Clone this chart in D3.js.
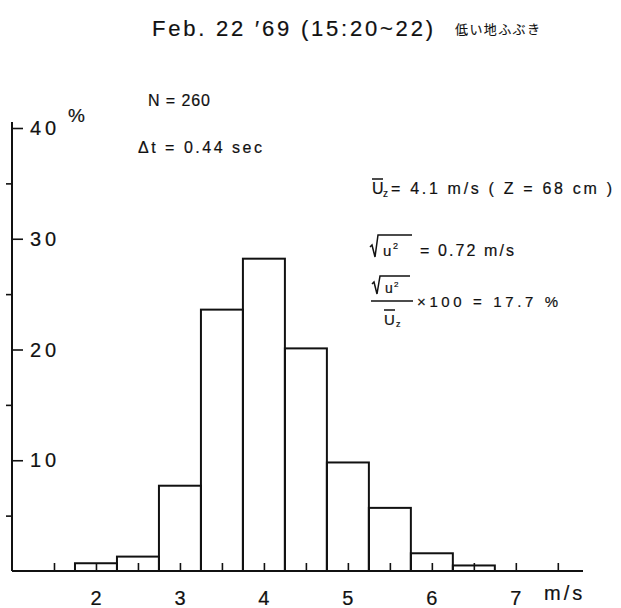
<!DOCTYPE html>
<html>
<head>
<meta charset="utf-8">
<script src="https://cdn.jsdelivr.net/npm/d3@7"></script>
<style>
  html, body { margin: 0; padding: 0; background: #fff; }
  svg text { font-family: "Liberation Sans", "DejaVu Sans", sans-serif; fill: #111; stroke: #111; stroke-width: 0.2; }
  .jp { font-family: "Noto Sans CJK JP", sans-serif; stroke-width: 0.1; }
</style>
</head>
<body>
<div id="chart"></div>
<script>
// histogram of wind speed, bins 0.5 m/s wide
const binCenters = [2.0, 2.5, 3.0, 3.5, 4.0, 4.5, 5.0, 5.5, 6.0, 6.5];
const percents   = [0.7, 1.3, 7.7, 23.6, 28.2, 20.1, 9.8, 5.7, 1.6, 0.5];
const binWidth = 0.5;

const xTickValues = [1.5, 2, 2.5, 3, 3.5, 4, 4.5, 5, 5.5, 6, 6.5, 7, 7.5];
const xLabels = [2, 3, 4, 5, 6, 7];
const yMajor = [10, 20, 30, 40];
const yMinor = [5, 15, 25, 35];

const W = 621, H = 608;

const svg = d3.select("#chart").append("svg")
    .attr("width", W)
    .attr("height", H);

const x = d3.scaleLinear().domain([1, 7.8]).range([12, 583]),
      y = d3.scaleLinear().domain([0, 40]).range([571, 128]);

// bars
svg.append("g")
    .attr("class", "bars")
    .selectAll("rect")
    .data(binCenters.map((c, i) => ({c: c, v: percents[i]})))
    .enter().append("rect")
    .attr("x", (d) => x(d.c - binWidth / 2))
    .attr("width", (d) => x(d.c + binWidth / 2) - x(d.c - binWidth / 2))
    .attr("y", (d) => y(d.v))
    .attr("height", (d) => y(0) - y(d.v))
    .attr("fill", "none")
    .attr("stroke", "#111")
    .attr("stroke-width", 2);

// x axis: baseline + upward ticks
const xAxis = svg.append("g")
    .attr("transform", `translate(0,${y(0)})`)
    .call(d3.axisTop(x).tickValues(xTickValues).tickSize(8).tickFormat(""));
xAxis.select(".domain").remove();
xAxis.selectAll("line").attr("stroke", "#111").attr("stroke-width", 1.6);
svg.append("line")
    .attr("x1", x(1)).attr("x2", x(7.8))
    .attr("y1", y(0)).attr("y2", y(0))
    .attr("stroke", "#111").attr("stroke-width", 2.2);

svg.append("g").selectAll("text")
    .data(xLabels)
    .enter().append("text")
    .attr("x", (d) => x(d))
    .attr("y", 605)
    .attr("text-anchor", "middle")
    .attr("font-size", 20)
    .text((d) => d);
svg.append("text")
    .attr("x", 544).attr("y", 600)
    .attr("font-size", 20)
    .attr("letter-spacing", 3)
    .text("m/s");

// y axis
svg.append("line")
    .attr("x1", x(1)).attr("x2", x(1))
    .attr("y1", y(0)).attr("y2", y(40) - 6)
    .attr("stroke", "#111").attr("stroke-width", 2);

const yAxisMajor = svg.append("g")
    .attr("transform", `translate(${x(1)},0)`)
    .call(d3.axisRight(y).tickValues(yMajor).tickSize(11).tickFormat(""));
yAxisMajor.select(".domain").remove();
yAxisMajor.selectAll("line").attr("stroke", "#111").attr("stroke-width", 1.6);

const yAxisMinor = svg.append("g")
    .attr("transform", `translate(${x(1)},0)`)
    .call(d3.axisLeft(y).tickValues(yMinor).tickSize(6).tickFormat(""));
yAxisMinor.select(".domain").remove();
yAxisMinor.selectAll("line").attr("stroke", "#111").attr("stroke-width", 1.6);

svg.append("g").selectAll("text")
    .data(yMajor)
    .enter().append("text")
    .attr("x", 30)
    .attr("y", (d) => y(d) + 7)
    .attr("font-size", 20)
    .attr("letter-spacing", 4)
    .text((d) => d);
svg.append("text")
    .attr("x", 68).attr("y", 122)
    .attr("font-size", 19)
    .text("%");

// title
svg.append("text")
    .attr("x", 152).attr("y", 36)
    .attr("font-size", 22)
    .attr("textLength", 281)
    .attr("lengthAdjust", "spacing")
    .text("Feb. 22 ′69 (15:20~22)");
svg.append("text")
    .attr("class", "jp")
    .attr("x", 455).attr("y", 34)
    .attr("font-size", 13)
    .attr("textLength", 85)
    .attr("lengthAdjust", "spacing")
    .text("低い地ふぶき");

// annotations
const note = (tx, ty, size, txt, len) => {
  const t = svg.append("text")
      .attr("x", tx).attr("y", ty)
      .attr("font-size", size)
      .text(txt);
  if (len) t.attr("textLength", len).attr("lengthAdjust", "spacing");
  return t;
};
const bar = (x1, x2, yy, w) => svg.append("line")
    .attr("x1", x1).attr("x2", x2).attr("y1", yy).attr("y2", yy)
    .attr("stroke", "#111").attr("stroke-width", w || 1.5);
const radical = (x0, yTop, yBot, x2) => svg.append("path")
    .attr("d", `M${x0},${yBot - 10} L${x0 + 2},${yBot - 12} L${x0 + 5},${yBot} L${x0 + 8},${yTop} L${x2},${yTop}`)
    .attr("fill", "none").attr("stroke", "#111").attr("stroke-width", 1.5);

note(148, 106, 16, "N = 260", 62);
note(138, 153, 16, "Δt = 0.44 sec", 124);

// U_z line
note(372, 194, 16, "U");
bar(372, 383, 179);
note(383, 197, 10, "z");
note(391, 194, 16, "= 4.1 m/s  ( Z = 68 cm )", 221);

// sqrt line
radical(370, 235, 257, 412);
note(383, 256, 15, "u");
note(393, 249, 9, "2");
note(420, 256, 16, "= 0.72 m/s", 94);

// fraction
radical(372, 276, 294, 410);
note(385, 293, 14, "u");
note(394, 287, 8, "2");
bar(371, 413, 301);
note(384, 325, 15, "U");
bar(384, 395, 310);
note(396, 327, 9, "z");
note(417, 307, 15, "×100 = 17.7 %", 141);
</script>
</body>
</html>
